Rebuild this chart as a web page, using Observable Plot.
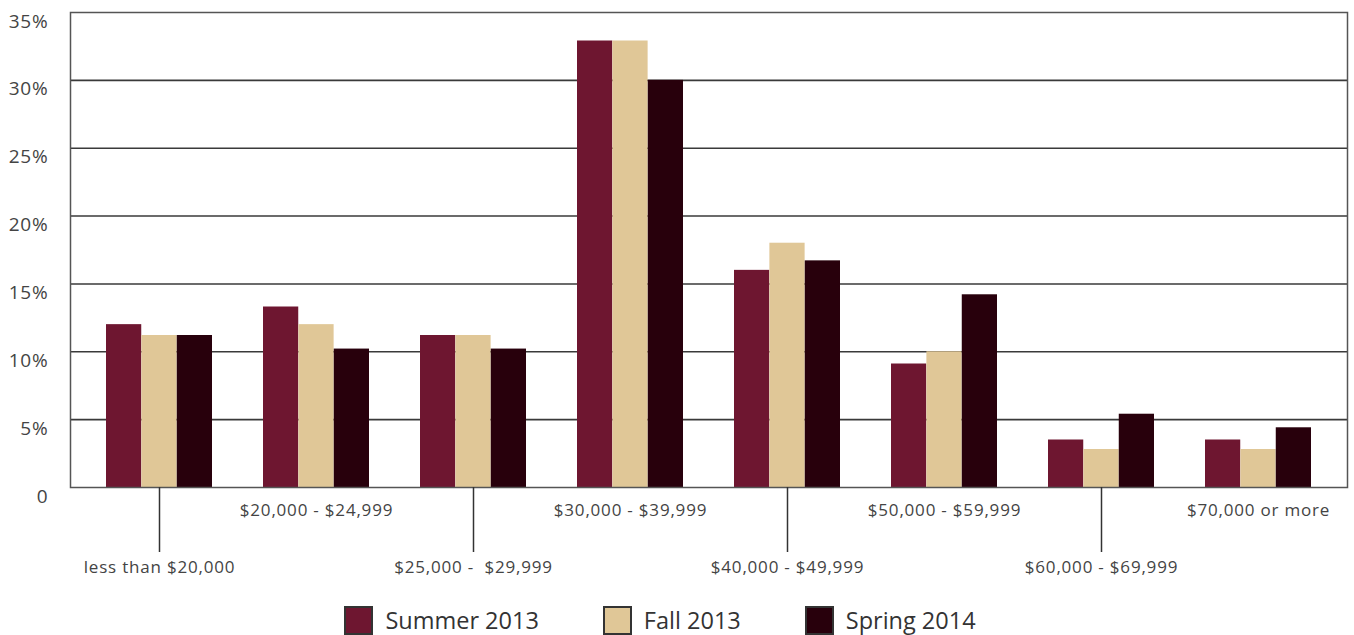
<!DOCTYPE html>
<html>
<head>
<meta charset="utf-8">
<script src="https://cdn.jsdelivr.net/npm/d3@7"></script>
<script src="https://cdn.jsdelivr.net/npm/@observablehq/plot@0.6"></script>
<style>
  html, body { margin: 0; padding: 0; background: #fff; }
  body { width: 1354px; font-family: "Open Sans", sans-serif; color: #333; }
  #legend { display: flex; justify-content: center; align-items: center; height: 40px; margin-top: 5px; padding-right: 34px; }
  .item { display: flex; align-items: center; margin: 0 32px; font-size: 23.5px; color: #333; }
  .sw { width: 25px; height: 25px; border: 2px solid #333; margin-right: 12px; }
  svg text { letter-spacing: 0.8px; }
</style>
</head>
<body>
<div id="chart"></div>
<div id="legend"></div>
<script>
const categories = ["less than $20,000", "$20,000 - $24,999", "$25,000 -  $29,999", "$30,000 - $39,999",
  "$40,000 - $49,999", "$50,000 - $59,999", "$60,000 - $69,999", "$70,000 or more"];
const seriesNames = ["Summer 2013", "Fall 2013", "Spring 2014"];
const summer2013 = [12.0, 13.3, 11.2, 32.9, 16.0, 9.1, 3.5, 3.5];
const fall2013   = [11.2, 12.0, 11.2, 32.9, 18.0, 10.0, 2.8, 2.8];
const spring2014 = [11.2, 10.2, 10.2, 30.0, 16.7, 14.2, 5.4, 4.4];
const seriesColors = ["#6E1630", "#E0C797", "#28000C"];
const yTicks = [0, 5, 10, 15, 20, 25, 30, 35];

const values = [summer2013, fall2013, spring2014];

const W = 1354, H = 595, ML = 70, MR = 7, MT = 12, MB = 108;
const PI = 0.325, PO = 0.223;
const band = d3.scaleBand(categories, [ML, W - MR]).paddingInner(PI).paddingOuter(PO);
const bw = band.bandwidth();

const barMarks = values.map((vals, k) => {
  const rows = categories.map((c, i) => ({cat: c, value: vals[i]}));
  return Plot.barY(rows, {
    x: "cat", y: "value", fill: seriesColors[k],
    insetLeft: k * bw / 3, insetRight: (2 - k) * bw / 3
  });
});

const evenCats = categories.filter((d, i) => i % 2 === 0);
const oddCats = categories.filter((d, i) => i % 2 === 1);

const chart = Plot.plot({
  width: W, height: H,
  marginLeft: ML, marginRight: MR, marginTop: MT, marginBottom: MB,
  style: {fontFamily: "'Open Sans', sans-serif", color: "#333", background: "#fff"},
  x: {domain: categories, paddingInner: PI, paddingOuter: PO, label: null},
  y: {domain: [0, 35], label: null},
  marks: [
    Plot.ruleY(yTicks.filter(d => d > 0 && d < 35), {stroke: "#3a3a3a", strokeWidth: 1.6}),
    ...barMarks,
    Plot.frame({stroke: "#555", strokeWidth: 1.5}),
    Plot.axisY({ticks: yTicks, tickFormat: d => d === 0 ? "0" : d + "%", tickSize: 0, tickPadding: 22, dy: 9, fontSize: 19, fill: "#444", label: null}),
    Plot.axisX({ticks: evenCats, tickSize: 65, tickPadding: 8, fontSize: 17, stroke: "#333", strokeWidth: 1.5, fill: "#444", label: null}),
    Plot.axisX({ticks: oddCats, tickSize: 0, tickPadding: 16, fontSize: 17, fill: "#444", label: null})
  ]
});
document.getElementById("chart").appendChild(chart);

const legend = document.getElementById("legend");
seriesNames.forEach((name, k) => {
  const item = document.createElement("div");
  item.className = "item";
  const sw = document.createElement("div");
  sw.className = "sw";
  sw.style.background = seriesColors[k];
  const label = document.createElement("span");
  label.textContent = name;
  item.appendChild(sw);
  item.appendChild(label);
  legend.appendChild(item);
});
</script>
</body>
</html>
